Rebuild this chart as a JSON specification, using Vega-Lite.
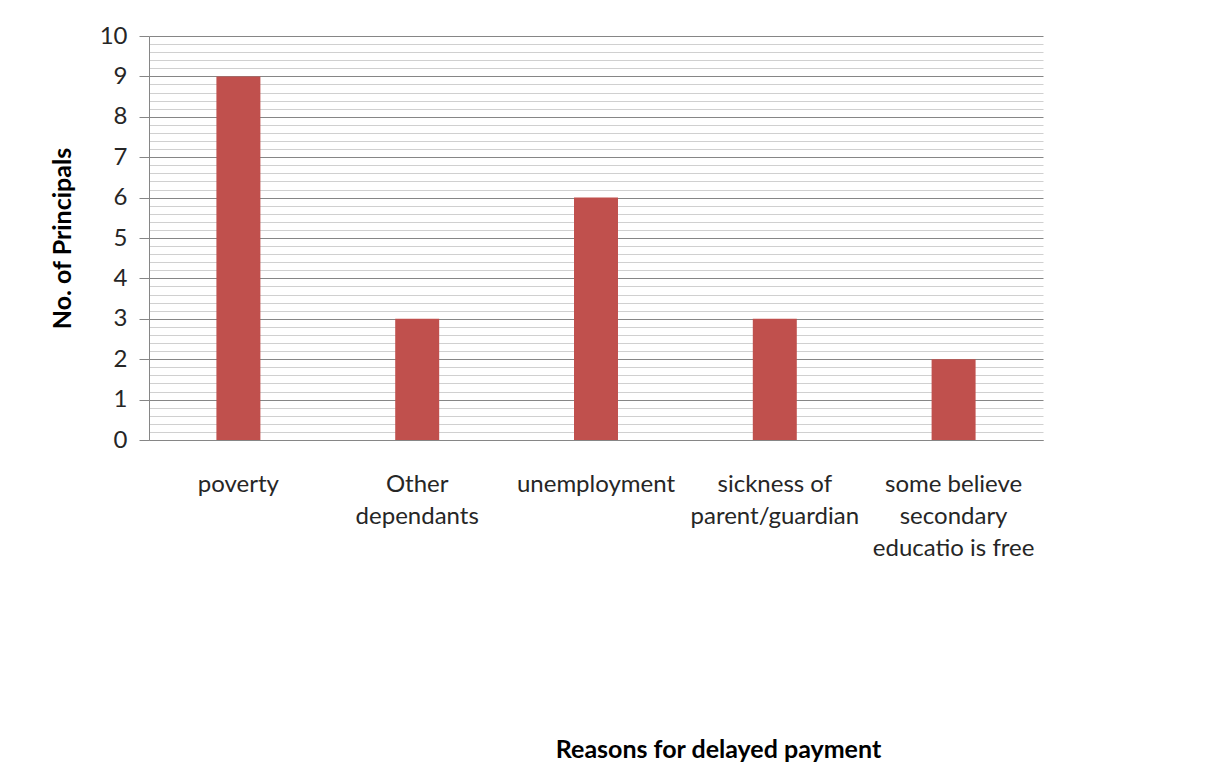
{
  "$schema": "https://vega.github.io/schema/vega-lite/v6.json",
  "autosize": {"type": "none"},
  "width": 894,
  "height": 404,
  "padding": {"left": 149, "top": 36, "right": 173, "bottom": 324},
  "background": "white",
  "config": {"view": {"stroke": null}, "font": "Lato"},
  "data": {
    "values": [
      {"reason": "poverty", "principals": 9},
      {"reason": "Other dependants", "principals": 3},
      {"reason": "unemployment", "principals": 6},
      {"reason": "sickness of parent/guardian", "principals": 3},
      {"reason": "some believe secondary educatio is free", "principals": 2}
    ]
  },
  "mark": {"type": "bar", "color": "#C0504D"},
  "encoding": {
    "x": {
      "field": "reason",
      "type": "nominal",
      "sort": null,
      "scale": {"paddingInner": 0.754, "paddingOuter": 0.377},
      "axis": {
        "title": "Reasons for delayed payment",
        "titleFont": "Lato",
        "titleFontSize": 25,
        "titleFontWeight": "bold",
        "titleColor": "#000000",
        "titlePadding": 177,
        "titleX": 569,
        "titleAlign": "center",
        "labelAngle": 0,
        "labelFont": "Lato",
        "labelFontSize": 24,
        "labelColor": "#262626",
        "labelPadding": 44,
        "labelLineHeight": 32,
        "labelBaseline": "middle",
        "labelLimit": 300,
        "labelExpr": "datum.value == 'Other dependants' ? ['Other', 'dependants'] : datum.value == 'sickness of parent/guardian' ? ['sickness of', 'parent/guardian'] : datum.value == 'some believe secondary educatio is free' ? ['some believe', 'secondary', 'educatio is free'] : datum.value",
        "ticks": false,
        "domain": true,
        "domainColor": "#868686",
        "domainWidth": 1,
        "grid": false
      }
    },
    "y": {
      "field": "principals",
      "type": "quantitative",
      "scale": {"domain": [0, 10], "nice": false},
      "axis": {
        "title": "No. of Principals",
        "titleFont": "Lato",
        "titleFontSize": 25,
        "titleFontWeight": "bold",
        "titleColor": "#000000",
        "titlePadding": 24,
        "values": [0, 0.2, 0.4, 0.6, 0.8, 1, 1.2, 1.4, 1.6, 1.8, 2, 2.2, 2.4, 2.6, 2.8, 3, 3.2, 3.4, 3.6, 3.8, 4, 4.2, 4.4, 4.6, 4.8, 5, 5.2, 5.4, 5.6, 5.8, 6, 6.2, 6.4, 6.6, 6.8, 7, 7.2, 7.4, 7.6, 7.8, 8, 8.2, 8.4, 8.6, 8.8, 9, 9.2, 9.4, 9.6, 9.8, 10],
        "labelExpr": "round(datum.value) == datum.value ? format(datum.value, 'd') : ''",
        "labelFont": "Lato",
        "labelFontSize": 24,
        "labelColor": "#262626",
        "labelPadding": 12,
        "tickSize": 10,
        "tickColor": "#868686",
        "tickOpacity": {"condition": {"test": "round(datum.value) == datum.value", "value": 1}, "value": 0},
        "domain": true,
        "domainColor": "#868686",
        "grid": true,
        "gridColor": {"condition": {"test": "round(datum.value) == datum.value", "value": "#868686"}, "value": "#d0d0d0"},
        "gridWidth": 1
      }
    }
  }
}
